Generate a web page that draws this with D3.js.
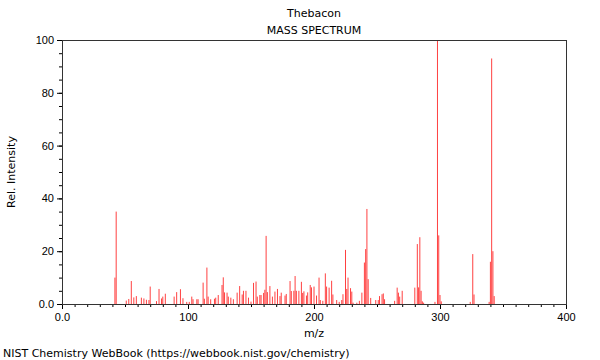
<!DOCTYPE html>
<html>
<head>
<meta charset="utf-8">
<script src="https://cdn.jsdelivr.net/npm/d3@7"></script>
<style>
  body { margin: 0; background: #fff; }
  svg { font-family: "DejaVu Sans", sans-serif; }
</style>
</head>
<body>
<div id="chart"></div>
<script>
// peak positions (m/z) and relative intensities
const mzValues = [42, 43, 51, 53, 55, 57, 59, 63, 65, 67, 69, 70, 75, 77, 79, 80, 82, 89, 91, 94,
  96, 99, 101, 103, 104, 107, 108, 112, 113, 115, 116, 118, 121, 122, 124, 127, 128, 129, 131, 132,
  134, 136, 139, 141, 143, 144, 146, 148, 150, 152, 154, 155, 157, 158, 160, 161, 162, 163, 165, 167,
  169, 171, 173, 174, 177, 178, 181, 182, 184, 185, 186, 188, 190, 191, 192, 194, 195, 197, 198, 200,
  202, 204, 205, 207, 209, 210, 212, 214, 215, 218, 220, 222, 223, 225, 226, 227, 229, 230, 231, 234,
  236, 238, 240, 241, 242, 243, 245, 249, 251, 252, 254, 255, 256, 264, 266, 267, 268, 270, 280, 282,
  283, 284, 285, 286, 287, 296, 298, 299, 300, 301, 324, 326, 327, 339, 340, 341, 342, 343];
const intensities = [10, 35, 1.3, 1.9, 8.7, 2.5, 3.0, 2.4, 2.1, 1.6, 1.5, 6.6, 1.1, 5.7, 2.1, 2.8, 3.9, 2.8, 4.5, 5.6,
  2.2, 0.8, 0.8, 2.8, 1.8, 1.8, 1.8, 8.1, 2, 13.8, 2.8, 1.8, 2, 2.4, 3.4, 7.2, 10.1, 4.4, 4.3, 2.8,
  2.4, 1.8, 4.3, 6.8, 3.6, 5, 5, 2.4, 0.9, 8, 8.5, 2.8, 3.4, 3.4, 4.2, 5.4, 25.8, 4.5, 6.8, 2.8,
  4.7, 5.7, 3, 4.3, 3.2, 3.8, 8.7, 4.9, 5, 10.6, 5, 5, 8.4, 4.2, 4.8, 3.2, 4.4, 7.2, 6.3, 6.6,
  3.2, 10, 1.5, 1.2, 11.6, 6.6, 6.2, 8.8, 3.6, 1.5, 0.8, 1.5, 3.7, 20.5, 5.7, 10, 6, 4.7, 0.5, 0.5,
  1.2, 4.3, 15.7, 20.8, 36, 9.4, 2.3, 1.5, 1.5, 3, 3.7, 4, 1.8, 1.2, 6.2, 4.3, 2.8, 5, 6.2, 22.7,
  6.3, 25.3, 5, 1, 0.5, 0.8, 100, 26, 3.4, 1, 0.8, 18.9, 3.6, 0.8, 16, 93, 20, 3];

const xMajorTicks = [0, 100, 200, 300, 400];
const yMajorTicks = [0, 20, 40, 60, 80, 100];

const width = 600;
const height = 360;
const margin = { top: 40, right: 34, bottom: 56, left: 62 };

const svg = d3.select('#chart')
  .append('svg')
  .attr('width', width)
  .attr('height', height);

const x = d3.scaleLinear().domain([0, 400]).range([margin.left, width - margin.right]);
const y = d3.scaleLinear().domain([0, 100]).range([height - margin.bottom, margin.top]);

const fmt = (d) => (d === 0 ? '0.0' : d);

// titles
svg.append('text')
  .attr('x', x(200)).attr('y', 17)
  .attr('text-anchor', 'middle')
  .style('font-size', '11px')
  .text('Thebacon');
svg.append('text')
  .attr('x', x(200)).attr('y', 34)
  .attr('text-anchor', 'middle')
  .style('font-size', '11px')
  .text('MASS SPECTRUM');

// peaks
const peaks = mzValues.map((mz, i) => ({ mz, value: intensities[i] }));
svg.append('g')
  .selectAll('line')
  .data(peaks)
  .join('line')
  .attr('x1', (d) => x(d.mz))
  .attr('x2', (d) => x(d.mz))
  .attr('y1', y(0))
  .attr('y2', (d) => y(Math.min(d.value, 100)))
  .attr('stroke', '#ff0000')
  .attr('stroke-opacity', 0.75)
  .attr('stroke-width', 1);

// minor ticks
svg.append('g')
  .attr('transform', `translate(0,${y(0)})`)
  .call(d3.axisBottom(x).tickValues(d3.range(0, 401, 10)).tickSize(3).tickFormat(''))
  .call((g) => g.select('.domain').remove());
svg.append('g')
  .attr('transform', `translate(${x(0)},0)`)
  .call(d3.axisLeft(y).tickValues(d3.range(0, 101, 5)).tickSize(3).tickFormat(''))
  .call((g) => g.select('.domain').remove());

// major ticks + labels
svg.append('g')
  .attr('transform', `translate(0,${y(0)})`)
  .call(d3.axisBottom(x).tickValues(xMajorTicks).tickSize(5).tickPadding(4).tickFormat(fmt))
  .call((g) => g.select('.domain').remove())
  .call((g) => g.selectAll('text').style('font-size', '11px').attr('fill', '#000').attr('font-family', null));
svg.append('g')
  .attr('transform', `translate(${x(0)},0)`)
  .call(d3.axisLeft(y).tickValues(yMajorTicks).tickSize(5).tickPadding(3).tickFormat(fmt))
  .call((g) => g.select('.domain').remove())
  .call((g) => g.selectAll('text').style('font-size', '11px').attr('fill', '#000').attr('font-family', null));

// frame
svg.append('rect')
  .attr('x', x(0) + 0.5)
  .attr('y', y(100) + 0.5)
  .attr('width', x(400) - x(0))
  .attr('height', y(0) - y(100))
  .attr('fill', 'none')
  .attr('stroke', '#333');

// axis labels
svg.append('text')
  .attr('x', x(200)).attr('y', 337)
  .attr('text-anchor', 'middle')
  .style('font-size', '11px')
  .text('m/z');
svg.append('text')
  .attr('transform', `translate(15,${(y(0) + y(100)) / 2}) rotate(-90)`)
  .attr('text-anchor', 'middle')
  .style('font-size', '11px')
  .text('Rel. Intensity');

svg.append('text')
  .attr('x', 3).attr('y', 357)
  .style('font-size', '11px')
  .text('NIST Chemistry WebBook (https://webbook.nist.gov/chemistry)');
</script>
</body>
</html>
